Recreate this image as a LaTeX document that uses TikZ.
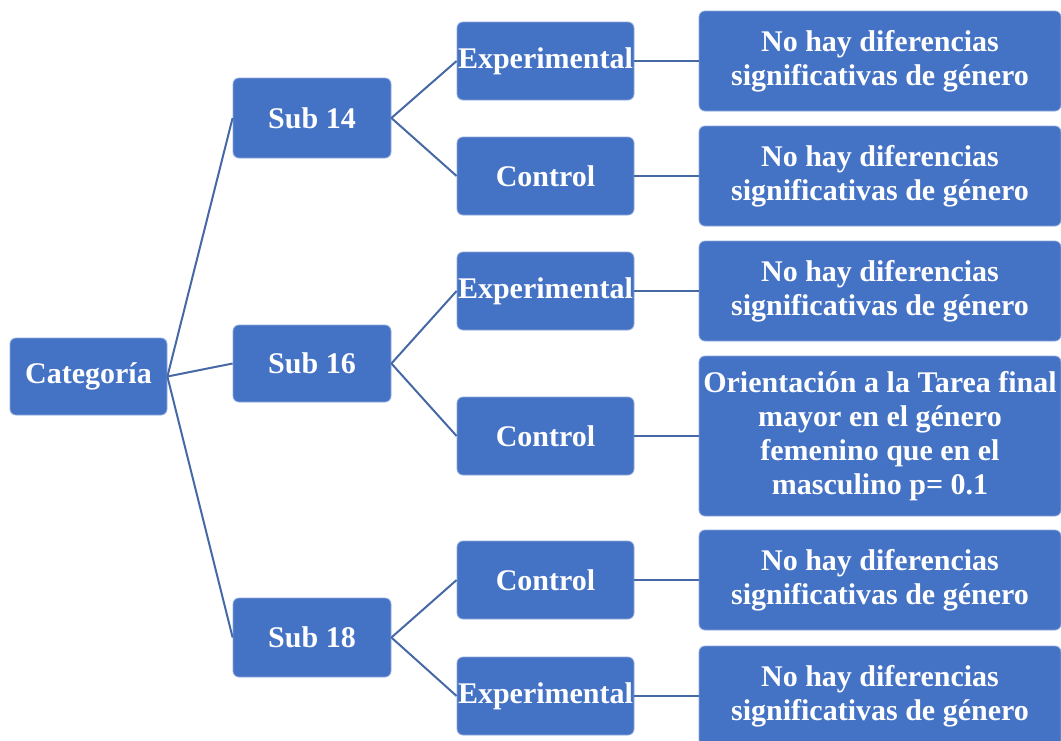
\documentclass[tikz,border=0pt]{standalone}
\usepackage{fontspec}
\setmainfont{Liberation Serif}
\definecolor{boxblue}{RGB}{68,114,196}
\definecolor{lineblue}{RGB}{70,104,164}
\tikzset{
  box/.style={fill=boxblue, draw=boxblue!60!white, line width=0.4pt, rounded corners=3pt,
    text=white, font=\bfseries\fontsize{15}{17}\selectfont, align=center, inner sep=0pt},
  link/.style={draw=lineblue, line width=1pt}
}
\begin{document}
\begin{tikzpicture}[x=0.5pt,y=-0.5pt]
    \useasboundingbox (0,0) rectangle (1061,740);
    % root and age groups
    \node[box, minimum width=78.5pt, minimum height=38.5pt] (cat) at (88.5,376.5) {Categoría};
    \node[box, minimum width=79pt, minimum height=40pt] (s14) at (312,118) {Sub 14};
    \node[box, minimum width=79pt, minimum height=38.5pt] (s16) at (312,363.5) {Sub 16};
    \node[box, minimum width=79pt, minimum height=39.5pt] (s18) at (312,637.5) {Sub 18};
    % groups
    \foreach \n/\y/\t in {e14/61/Experimental, c14/176/Control, e16/291/Experimental,
                          c16/436/Control, c18/580/Control, e18/696/Experimental} {
      \node[box, minimum width=88.5pt, minimum height=39pt] (\n) at (545.5,\y) {\t};
    }
    % results
    \foreach \n/\y in {r1/61, r2/176, r3/291, r5/580, r6/696} {
      \node[box, minimum width=181pt, minimum height=50pt] (\n) at (880,\y)
        {No hay diferencias\\significativas de género};
    }
    \node[box, minimum width=181pt, minimum height=80pt] (r4) at (880,436)
      {Orientación a la Tarea final\\mayor en el género\\femenino que en el\\masculino p= 0.1};
    % connectors
    \foreach \s in {s14,s16,s18} {
      \draw[link] (cat.east) -- (\s.west);
    }
    \draw[link] (s14.east) -- (e14.west);
    \draw[link] (s14.east) -- (c14.west);
    \draw[link] (s16.east) -- (e16.west);
    \draw[link] (s16.east) -- (c16.west);
    \draw[link] (s18.east) -- (c18.west);
    \draw[link] (s18.east) -- (e18.west);
    \foreach \a/\b in {e14/r1, c14/r2, e16/r3, c16/r4, c18/r5, e18/r6} {
      \draw[link] (\a.east) -- (\b.west);
    }
\end{tikzpicture}
\end{document}
